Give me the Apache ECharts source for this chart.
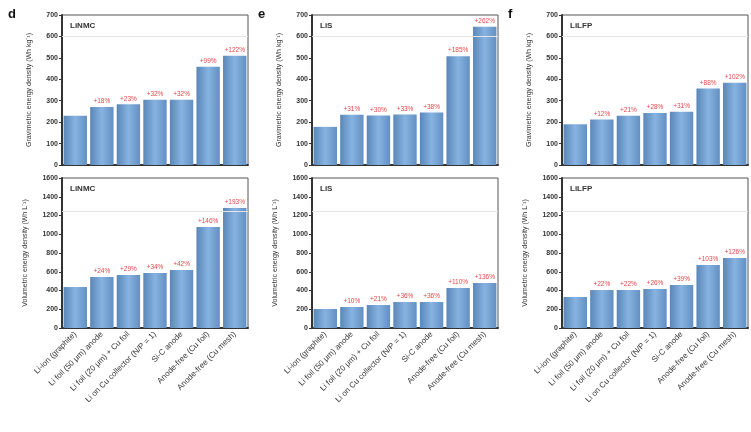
<!DOCTYPE html>
<html>
<head>
<meta charset="utf-8">
<script src="https://cdn.jsdelivr.net/npm/echarts@6/dist/echarts.min.js"></script>
<style>
  html, body { margin: 0; padding: 0; background: #fff; }
  #chart { width: 751px; height: 432px; }
</style>
</head>
<body>
<div id="chart"></div>
<script>
var categories = [
  'Li-ion (graphite)',
  'Li foil (50 μm) anode',
  'Li foil (20 μm) + Cu foil',
  'Li on Cu collector (N/P = 1)',
  'Si-C anode',
  'Anode-free (Cu foil)',
  'Anode-free (Cu mesh)'
];

var panelNames = ['LiNMC', 'LiS', 'LiLFP'];
var panelLetters = ['d', 'e', 'f'];

// gravimetric (Wh kg-1)
var gravNMC = [230, 271, 283, 304, 304, 458, 510];
var gravS = [178, 234, 231, 236, 245, 508, 645];
var gravLFP = [190, 212, 230, 243, 248, 357, 384];
// volumetric (Wh L-1)
var volNMC = [437, 544, 565, 587, 619, 1077, 1280];
var volS = [203, 224, 245, 277, 277, 427, 480];
var volLFP = [331, 405, 405, 416, 459, 672, 747];

var gravLabels = [
  ['', '+18%', '+23%', '+32%', '+32%', '+99%', '+122%'],
  ['', '+31%', '+30%', '+33%', '+38%', '+185%', '+262%'],
  ['', '+12%', '+21%', '+28%', '+31%', '+88%', '+102%']
];
var volLabels = [
  ['', '+24%', '+29%', '+34%', '+42%', '+146%', '+193%'],
  ['', '+10%', '+21%', '+36%', '+36%', '+110%', '+136%'],
  ['', '+22%', '+22%', '+26%', '+39%', '+103%', '+126%']
];

var gravMax = 700, gravStep = 100;
var volMax = 1600, volStep = 200;

var chart = echarts.init(document.getElementById('chart'));

var lefts = [62, 312, 562];
var grids = [], xAxes = [], yAxes = [], series = [], graphics = [];

var barColor = new echarts.graphic.LinearGradient(0, 0, 1, 0, [
  { offset: 0, color: '#5a87b8' },
  { offset: 0.5, color: '#86b3e0' },
  { offset: 1, color: '#6390c2' }
]);

function addPanel(idx, row, col, data, labels) {
  var top = row === 0 ? 15 : 178;
  grids.push({
    left: lefts[col], top: top, width: 186, height: 150,
    show: true, borderColor: '#555', borderWidth: 1
  });
  xAxes.push({
    type: 'category', gridIndex: idx, data: categories,
    axisTick: { show: false },
    axisLine: { lineStyle: { color: '#333', width: 2 } },
    axisLabel: {
      show: row === 1, rotate: 45, fontSize: 8, color: '#333',
      margin: 5, interval: 0
    }
  });
  yAxes.push({
    type: 'value', gridIndex: idx, min: 0,
    max: row === 0 ? gravMax : volMax,
    interval: row === 0 ? gravStep : volStep,
    name: row === 0 ? 'Gravimetric energy density (Wh kg⁻¹)' : 'Volumetric energy density (Wh L⁻¹)',
    nameLocation: 'middle', nameGap: row === 0 ? 29 : 33,
    nameTextStyle: { fontSize: 7, color: '#333' },
    axisLine: { show: true, lineStyle: { color: '#333', width: 2 } },
    axisTick: { show: true, length: 3, lineStyle: { color: '#333' } },
    axisLabel: {
      fontSize: 7, color: '#333', margin: 4, fontWeight: 'bold',
      formatter: function (v) { return String(v); }
    },
    splitLine: { show: false }
  });
  series.push({
    type: 'bar', xAxisIndex: idx, yAxisIndex: idx,
    data: data, barCategoryGap: '12%',
    itemStyle: { color: barColor },
    label: {
      show: true, position: 'top', distance: 2, fontSize: 6.5,
      color: '#e8474a',
      formatter: function (p) { return labels[p.dataIndex]; }
    },
    markLine: {
      silent: true, symbol: 'none',
      lineStyle: { color: '#e4e4e4', type: 'solid', width: 1 },
      label: { show: false },
      data: [{ yAxis: row === 0 ? 600 : 1250 }]
    }
  });
  graphics.push({
    type: 'text', left: lefts[col] + 8, top: top + 7,
    style: { text: panelNames[col], fontSize: 8, fontWeight: 'bold', fill: '#333' }
  });
  if (row === 0) {
    graphics.push({
      type: 'text', left: lefts[col] - 54, top: 8,
      style: { text: panelLetters[col], fontSize: 13, fontWeight: 'bold', fill: '#111' }
    });
  }
}

addPanel(0, 0, 0, gravNMC, gravLabels[0]);
addPanel(1, 0, 1, gravS, gravLabels[1]);
addPanel(2, 0, 2, gravLFP, gravLabels[2]);
addPanel(3, 1, 0, volNMC, volLabels[0]);
addPanel(4, 1, 1, volS, volLabels[1]);
addPanel(5, 1, 2, volLFP, volLabels[2]);

chart.setOption({
  backgroundColor: '#fff',
  textStyle: { fontFamily: 'Liberation Sans, Arial, sans-serif' },
  animation: false,
  grid: grids,
  xAxis: xAxes,
  yAxis: yAxes,
  series: series,
  graphic: graphics
});
</script>
</body>
</html>
